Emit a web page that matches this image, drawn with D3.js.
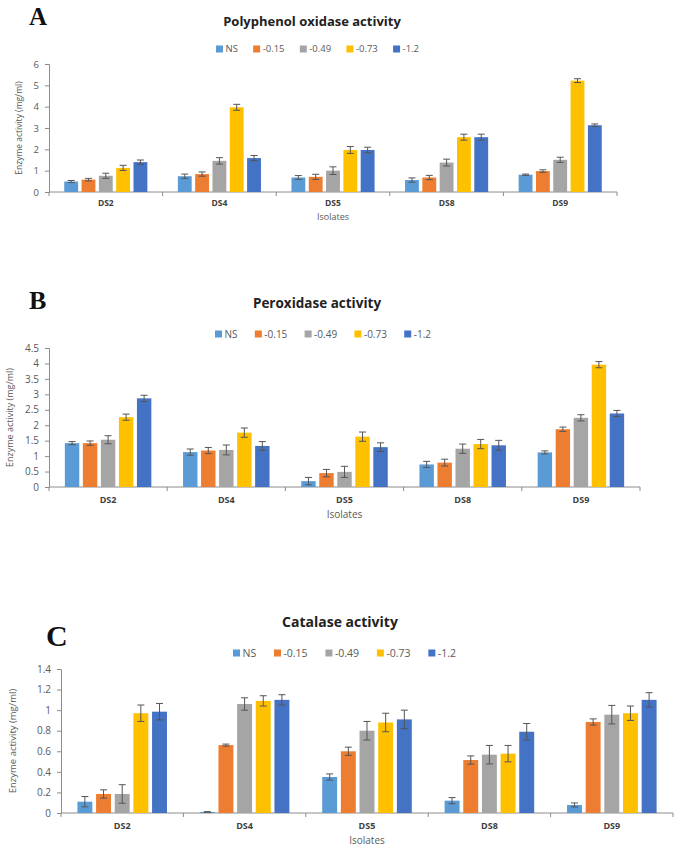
<!DOCTYPE html>
<html>
<head>
<meta charset="utf-8">
<script src="https://cdn.jsdelivr.net/npm/d3@7"></script>
<style>
  html, body { margin: 0; padding: 0; background: #fff; }
  svg { display: block; }
</style>
</head>
<body>
<svg id="chart" width="677" height="846"></svg>
<script>
// ---------------- DATA ----------------
const categories = ["DS2", "DS4", "DS5", "DS8", "DS9"];
const series = ["NS", "-0.15", "-0.49", "-0.73", "-1.2"];
const seriesColors = ["#5B9BD5", "#ED7D31", "#A5A5A5", "#FFC000", "#4472C4"];

// Polyphenol oxidase activity: rows = isolates, cols = series
const ppoMean = [
  [0.49, 0.58, 0.76, 1.13, 1.40],
  [0.74, 0.84, 1.46, 3.97, 1.59],
  [0.68, 0.71, 1.00, 1.97, 1.97],
  [0.56, 0.68, 1.38, 2.57, 2.57],
  [0.81, 0.98, 1.51, 5.22, 3.13]
];
const ppoErr = [
  [0.05, 0.06, 0.12, 0.12, 0.10],
  [0.10, 0.10, 0.15, 0.14, 0.12],
  [0.09, 0.12, 0.18, 0.16, 0.13],
  [0.10, 0.10, 0.16, 0.14, 0.14],
  [0.03, 0.06, 0.12, 0.09, 0.06]
];
const ppoTicks = [0, 1, 2, 3, 4, 5, 6];

// Peroxidase activity
const poxMean = [
  [1.42, 1.42, 1.53, 2.26, 2.87],
  [1.13, 1.18, 1.20, 1.76, 1.33],
  [0.19, 0.45, 0.49, 1.63, 1.29],
  [0.73, 0.79, 1.24, 1.39, 1.35],
  [1.12, 1.87, 2.24, 3.96, 2.38]
];
const poxErr = [
  [0.05, 0.07, 0.13, 0.10, 0.10],
  [0.10, 0.10, 0.16, 0.15, 0.14],
  [0.12, 0.12, 0.18, 0.15, 0.14],
  [0.10, 0.11, 0.15, 0.15, 0.16],
  [0.05, 0.07, 0.10, 0.10, 0.10]
];
const poxTicks = [0, 0.5, 1, 1.5, 2, 2.5, 3, 3.5, 4, 4.5];

// Catalase activity
const catMean = [
  [0.11, 0.185, 0.185, 0.97, 0.985],
  [0.01, 0.66, 1.06, 1.09, 1.10],
  [0.35, 0.60, 0.80, 0.88, 0.91],
  [0.12, 0.515, 0.567, 0.577, 0.79],
  [0.078, 0.885, 0.956, 0.97, 1.10]
];
const catErr = [
  [0.05, 0.04, 0.09, 0.08, 0.08],
  [0.003, 0.01, 0.06, 0.05, 0.05],
  [0.03, 0.04, 0.09, 0.09, 0.09],
  [0.03, 0.04, 0.09, 0.08, 0.08],
  [0.02, 0.03, 0.09, 0.07, 0.07]
];
const catTicks = [0, 0.2, 0.4, 0.6, 0.8, 1, 1.2, 1.4];

const panelTitles = ["Polyphenol oxidase activity", "Peroxidase activity", "Catalase activity"];
const panelLetters = ["A", "B", "C"];
const yAxisTitle = "Enzyme activity (mg/ml)";
const xAxisTitle = "Isolates";

// ---------------- LAYOUT ----------------
const layouts = [
  { left: 49, right: 617, top: 64, bottom: 192,
    letterX: 29, letterY: 25, letterSize: 25,
    titleX: 312, titleY: 26, titleSize: 13,
    legendY: 49, legendX0: 216, legendX1: 419, legendSize: 9.5,
    yLabelX: 19, yLabelSize: 8.5, tickSize: 9.5,
    catY: 206, catSize: 8.5, isoY: 220, isoSize: 9 },
  { left: 49, right: 640, top: 348, bottom: 487,
    letterX: 29, letterY: 309, letterSize: 26,
    titleX: 317, titleY: 308, titleSize: 13.5,
    legendY: 334, legendX0: 215, legendX1: 431, legendSize: 10,
    yLabelX: 10, yLabelSize: 9, tickSize: 10,
    catY: 503, catSize: 9, isoY: 518, isoSize: 10 },
  { left: 61, right: 673, top: 669, bottom: 813,
    letterX: 46, letterY: 646, letterSize: 30,
    titleX: 340, titleY: 627, titleSize: 14,
    legendY: 653, legendX0: 233, legendX1: 456, legendSize: 10.5,
    yLabelX: 13, yLabelSize: 9.5, tickSize: 10,
    catY: 829, catSize: 9, isoY: 844, isoSize: 10 }
];

const panelData = [
  { mean: ppoMean, err: ppoErr, ticks: ppoTicks },
  { mean: poxMean, err: poxErr, ticks: poxTicks },
  { mean: catMean, err: catErr, ticks: catTicks }
];

const svg = d3.select("#chart");
const sansFont = "'Open Sans', 'Liberation Sans', sans-serif";
const axisColor = "#8c8c8c";
const textColor = "#595959";

panelData.forEach((pd, i) => {
  const L = layouts[i];
  const g = svg.append("g");

  const x0 = d3.scaleBand().domain(categories).range([L.left, L.right]).paddingInner(0).paddingOuter(0);
  const x1 = d3.scaleBand().domain(series).range([0, x0.bandwidth()]).paddingInner(0.2).paddingOuter(0.88);
  const y = d3.scaleLinear().domain([pd.ticks[0], pd.ticks[pd.ticks.length - 1]]).range([L.bottom, L.top]);

  // Letter
  g.append("text").attr("x", L.letterX).attr("y", L.letterY)
    .attr("font-family", "'Liberation Serif', 'DejaVu Serif', serif")
    .attr("font-weight", "bold").attr("font-size", L.letterSize).attr("fill", "#111")
    .text(panelLetters[i]);

  // Title
  g.append("text").attr("x", L.titleX).attr("y", L.titleY).attr("text-anchor", "middle")
    .attr("font-family", sansFont).attr("font-weight", "bold").attr("font-size", L.titleSize)
    .attr("fill", "#222").text(panelTitles[i]);

  // Legend
  const leg = g.append("g");
  const items = series.map((s, k) => {
    const it = leg.append("g");
    it.append("rect").attr("width", 7).attr("height", 7).attr("y", L.legendY - 3.5).attr("fill", seriesColors[k]);
    const t = it.append("text").attr("x", 9.5).attr("y", L.legendY + L.legendSize * 0.35)
      .attr("font-family", sansFont).attr("font-size", L.legendSize).attr("fill", textColor).text(s);
    return { it, w: 9.5 + t.node().getComputedTextLength() };
  });
  const totalText = d3.sum(items, d => d.w);
  const gap = (L.legendX1 - L.legendX0 - totalText) / (items.length - 1);
  let cx = L.legendX0;
  items.forEach(d => { d.it.attr("transform", `translate(${cx},0)`); cx += d.w + gap; });

  // Y axis
  const yAxis = d3.axisLeft(y).tickValues(pd.ticks).tickSize(4).tickPadding(6).tickFormat(d3.format("~g"));
  const ya = g.append("g").attr("transform", `translate(${L.left},0)`).call(yAxis);
  ya.select(".domain").attr("stroke", axisColor);
  ya.selectAll(".tick line").attr("stroke", axisColor);
  ya.selectAll(".tick text").attr("font-family", sansFont).attr("font-size", L.tickSize).attr("fill", textColor);

  // X axis (line + boundary ticks)
  const xa = g.append("g").attr("transform", `translate(0,${L.bottom})`);
  xa.append("line").attr("x1", L.left).attr("x2", L.right).attr("stroke", axisColor);
  const bounds = categories.map(c => x0(c)).concat([x0(categories[categories.length - 1]) + x0.bandwidth()]);
  xa.selectAll("line.bt").data(bounds).join("line").attr("class", "bt")
    .attr("x1", d => d).attr("x2", d => d).attr("y1", 0).attr("y2", 4).attr("stroke", axisColor);
  xa.selectAll("text.cl").data(categories).join("text").attr("class", "cl")
    .attr("x", d => x0(d) + x0.bandwidth() / 2).attr("y", L.catY - L.bottom)
    .attr("text-anchor", "middle").attr("font-family", sansFont).attr("font-weight", "bold")
    .attr("font-size", L.catSize).attr("fill", "#404040").text(d => d);

  // Axis titles
  g.append("text").attr("x", (L.left + L.right) / 2).attr("y", L.isoY).attr("text-anchor", "middle")
    .attr("font-family", sansFont).attr("font-size", L.isoSize).attr("fill", textColor).text(xAxisTitle);
  g.append("text").attr("transform", `translate(${L.yLabelX},${(L.top + L.bottom) / 2}) rotate(-90)`)
    .attr("text-anchor", "middle").attr("dy", "0.35em")
    .attr("font-family", sansFont).attr("font-size", L.yLabelSize).attr("fill", textColor).text(yAxisTitle);

  // Bars
  const groups = g.selectAll("g.grp").data(categories).join("g").attr("class", "grp")
    .attr("transform", c => `translate(${x0(c)},0)`);
  groups.each(function (c, ci) {
    const gg = d3.select(this);
    series.forEach((s, si) => {
      const v = pd.mean[ci][si];
      const e = pd.err[ci][si];
      const bx = x1(s);
      gg.append("rect").attr("x", bx).attr("y", y(v)).attr("width", x1.bandwidth())
        .attr("height", y(0) - y(v)).attr("fill", seriesColors[si]);
      const mx = bx + x1.bandwidth() / 2;
      const eg = gg.append("g").attr("stroke", "#555").attr("stroke-width", 1);
      eg.append("line").attr("x1", mx).attr("x2", mx).attr("y1", y(Math.max(0, v - e))).attr("y2", y(v + e));
      eg.append("line").attr("x1", mx - 3.5).attr("x2", mx + 3.5).attr("y1", y(v + e)).attr("y2", y(v + e));
      eg.append("line").attr("x1", mx - 3.5).attr("x2", mx + 3.5).attr("y1", y(Math.max(0, v - e))).attr("y2", y(Math.max(0, v - e)));
    });
  });
});
</script>
</body>
</html>
